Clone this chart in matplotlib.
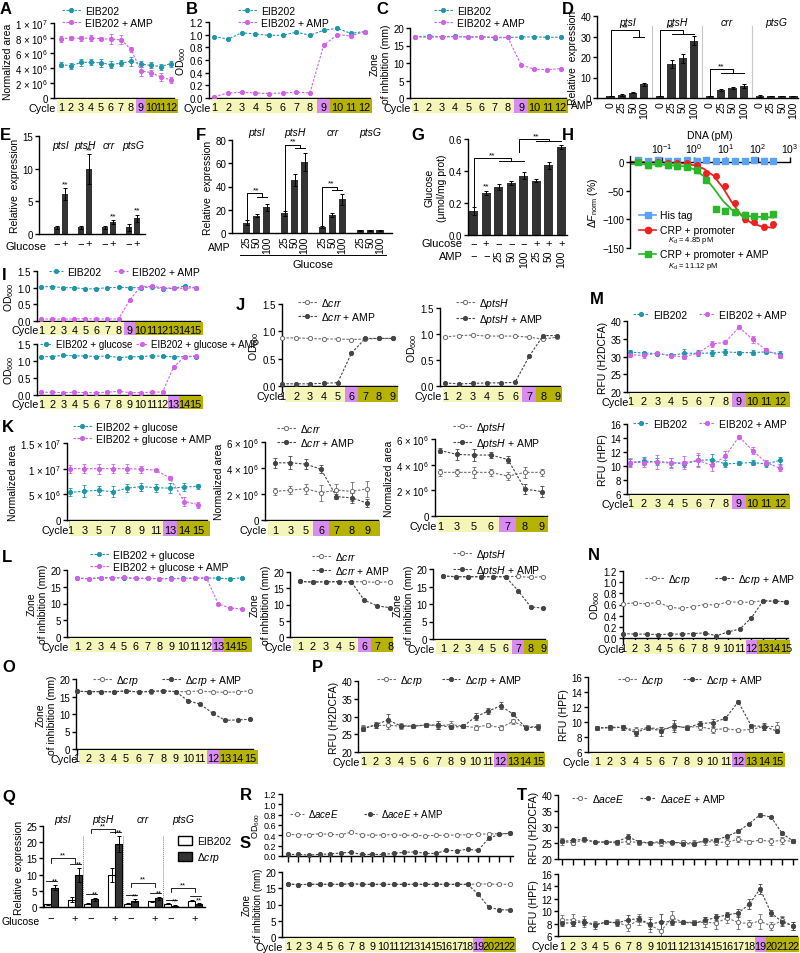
import numpy as np
import matplotlib
matplotlib.use("Agg")
import matplotlib.pyplot as plt
from matplotlib.patches import Rectangle, Patch
from matplotlib.lines import Line2D
from matplotlib.ticker import NullLocator

# ---------------- data ----------------
CYC8 = ["1", "2", "3", "4", "5", "6", "7", "8"]
CYC9 = CYC8 + ["9"]
CYC12 = CYC9 + ["10", "11", "12"]
CYC15 = CYC12 + ["13", "14", "15"]
CYC22 = CYC15 + ["16", "17", "18", "19", "20", "21", "22"]

# A  normalized area (x 10^6)
A_ctrl = [4.45, 4.3, 4.75, 4.75, 4.7, 4.45, 4.65, 4.9, 4.5, 4.35, 4.2, 4.6]
A_ctrl_err = [0.3, 0.4, 0.5, 0.4, 0.5, 0.5, 0.4, 0.6, 0.4, 0.4, 0.4, 0.4]
A_amp = [7.9, 8.0, 7.95, 8.0, 7.9, 7.85, 7.75, 6.5, 3.6, 3.4, 2.8, 2.4]
A_amp_err = [0.4, 0.3, 0.3, 0.4, 0.2, 0.7, 0.6, 0.3, 0.6, 0.4, 0.5, 0.4]
A_ytl = ["0", "2 × 10$^6$", "4 × 10$^6$", "6 × 10$^6$", "8 × 10$^6$", "1 × 10$^7$"]
# B  OD600
B_ctrl = [0.97, 0.93, 1.03, 1.01, 0.99, 0.99, 1.04, 0.99, 1.07, 1.10, 1.02, 1.05]
B_amp = [0.02, 0.08, 0.09, 0.08, 0.07, 0.08, 0.09, 0.08, 0.83, 1.00, 0.98, 1.05]
OD12_ytl = ["0.0", "0.2", "0.4", "0.6", "0.8", "1.0", "1.2"]
OD15_ytl = ["0.0", "0.5", "1.0", "1.5"]
# C  zone of inhibition
C_ctrl = [17.5, 17.7, 17.5, 17.6, 17.4, 17.5, 17.2, 17.3, 17.4, 17.5, 17.3, 17.4]
C_amp = [17.5, 17.3, 17.5, 17.5, 17.5, 17.5, 17.4, 17.3, 9.5, 8.2, 8.1, 8.4]
# D  relative expression vs AMP
GENES = ["ptsI", "ptsH", "crr", "ptsG"]
D_amp_lab = ["0", "25", "50", "100"]
D_vals = [[1.0, 1.5, 2.5, 6.7], [1.0, 16.5, 19.5, 28.0], [1.0, 4.0, 4.8, 6.0], [1.0, 0.9, 0.9, 1.0]]
D_err = [[0.2, 0.4, 0.3, 0.8], [0.2, 2.0, 2.2, 2.3], [0.2, 0.6, 0.4, 1.0], [0.3, 0.1, 0.1, 0.2]]
# E  relative expression, glucose - / +
E_vals = [[1.0, 6.1], [1.0, 9.9], [1.0, 1.8], [1.0, 2.4]]
E_err = [[0.3, 0.9], [0.2, 2.3], [0.3, 0.3], [0.5, 0.5]]
# F  relative expression, glucose + AMP
F_amp_lab = ["25", "50", "100"]
F_vals = [[9.0, 15.0, 22.0], [17.0, 45.5, 61.0], [5.0, 15.5, 29.0], [2.5, 2.5, 2.5]]
F_err = [[2.0, 1.5, 3.0], [2.0, 5.0, 8.0], [1.0, 2.0, 4.5], [0.4, 0.4, 0.4]]
# G  glucose content
G_glu = ["−", "+", "−", "−", "−", "+", "+", "+"]
G_amp = ["−", "−", "25", "50", "100", "25", "50", "100"]
G_vals = [0.15, 0.26, 0.30, 0.325, 0.37, 0.34, 0.435, 0.55]
G_err = [0.022, 0.012, 0.016, 0.012, 0.022, 0.01, 0.022, 0.012]
# H  MST
H_x = [0.018, 0.037, 0.073, 0.15, 0.29, 0.59, 1.2, 2.3, 4.7, 9.4, 19, 38, 75, 150, 300]
H_his = [3, 2, 3, 2, 1, 3, 2, 3, 2, 2, 2, 2, 3, 2, 2]
H_crp = [-2, -2, 0, -2, -3, -3, -5, -20, -25, -42, -72, -100, -105, -113, -109]
H_amp = [0, -6, -3, -6, -8, -9, -15, -32, -82, -85, -88, -92, -95, -94, -91]
H_fit_x = [0.01, 0.1, 0.5, 1, 2, 4, 8, 15, 30, 60, 120, 300]
H_fit_crp = [0, -1, -3, -6, -12, -24, -45, -70, -93, -106, -112, -115]
H_fit_amp = [-4, -5, -8, -13, -25, -45, -68, -83, -92, -95, -96, -97]
# I  OD600, 15 cycles
I_ctrl = [1.03, 1.03, 1.0, 1.0, 0.96, 0.97, 1.0, 1.01, 1.0, 1.0, 1.02, 0.97, 0.98, 1.05, 1.0]
I_amp = [0.06, 0.06, 0.06, 0.06, 0.07, 0.06, 0.06, 0.06, 0.62, 1.03, 1.04, 1.0, 0.98, 0.98, 1.0]
I2_ctrl = [1.13, 1.13, 1.17, 1.15, 1.15, 1.13, 1.15, 1.10, 1.12, 1.13, 1.15, 1.14, 1.12, 1.13, 1.13]
I2_amp = [0.08, 0.08, 0.07, 0.08, 0.07, 0.07, 0.08, 0.11, 0.07, 0.07, 0.08, 0.09, 0.82, 1.13, 1.15]
# J  OD600 mutants
J1_ctrl = [0.88, 0.88, 0.87, 0.86, 0.86, 0.85, 0.86, 0.87, 0.87]
J1_amp = [0.04, 0.04, 0.04, 0.05, 0.06, 0.60, 0.87, 0.87, 0.87]
J2_ctrl = [0.94, 0.97, 0.98, 0.96, 0.96, 0.96, 0.94, 0.90, 0.94]
J2_amp = [0.06, 0.04, 0.05, 0.06, 0.06, 0.07, 0.57, 0.97, 0.97]
# K  normalized area (x 10^6)
K1_lab = ["1", "3", "5", "7", "8", "9", "11", "13", "14", "15"]
K1_ctrl = [5.4, 5.6, 5.8, 5.5, 6.2, 6.5, 6.3, 6.2, 6.4, 6.6]
K1_ctrl_err = [0.8, 1.2, 0.9, 1.1, 0.8, 0.8, 0.8, 1.0, 0.8, 0.5]
K1_amp = [10.0, 10.0, 10.0, 10.0, 10.0, 9.9, 9.7, 8.2, 3.6, 3.0]
K1_amp_err = [0.8, 0.9, 1.0, 0.9, 0.9, 0.7, 0.3, 0.4, 0.8, 0.6]
K1_ytl = ["0", "5 × 10$^6$", "1 × 10$^7$", "1.5 × 10$^7$"]
K2_lab = ["1", "3", "5", "6", "7", "8", "9"]
K2_ctrl = [2.2, 2.3, 2.4, 2.1, 2.3, 2.2, 2.4]
K2_ctrl_err = [0.3, 0.3, 0.4, 0.6, 0.5, 0.7, 0.6]
K2_amp = [4.4, 4.4, 4.3, 3.9, 1.8, 1.7, 1.3]
K2_amp_err = [0.4, 0.5, 0.4, 0.3, 0.2, 0.4, 0.3]
K3_lab = ["1", "3", "5", "6", "7", "8", "9"]
K3_ctrl = [3.4, 3.4, 3.4, 3.4, 3.1, 3.4, 3.4]
K3_ctrl_err = [0.3, 0.3, 0.4, 0.3, 0.3, 0.4, 0.3]
K3_amp = [5.1, 4.8, 4.75, 4.75, 4.4, 2.1, 1.9]
K3_amp_err = [0.2, 0.4, 0.5, 0.2, 0.3, 0.4, 0.4]
K6_ytl = ["0", "2 × 10$^6$", "4 × 10$^6$", "6 × 10$^6$"]
# L  zone of inhibition
L1_ctrl = [17.6, 17.4, 17.7, 17.7, 17.6, 17.5, 17.5, 17.4, 17.5, 17.5, 17.6, 17.6, 17.6, 17.3, 17.7]
L1_amp = [17.5, 17.4, 17.6, 17.6, 17.8, 17.5, 17.5, 17.4, 17.4, 17.4, 17.6, 17.6, 9.9, 8.6, 8.4]
L2_ctrl = [17.1, 16.9, 17.0, 17.0, 17.0, 17.0, 16.8, 17.0]
L2_amp = [17.1, 16.9, 17.0, 17.0, 16.9, 11.3, 9.6, 9.0]
L3_ctrl = [18.0, 17.8, 17.8, 17.8, 17.8, 17.8, 17.9, 17.6, 17.8]
L3_amp = [18.0, 17.8, 17.8, 17.8, 17.8, 17.8, 13.8, 9.2, 8.8]
# M  ROS
M1_ctrl = [31.2, 31.0, 30.8, 30.3, 30.9, 30.9, 31.0, 31.3, 31.1, 31.1, 31.3, 30.8]
M1_ctrl_err = [0.6, 0.4, 0.4, 0.3, 1.2, 0.8, 0.9, 0.9, 0.5, 0.6, 0.3, 0.7]
M1_amp = [30.5, 30.3, 30.9, 30.2, 29.9, 31.0, 33.5, 34.0, 38.3, 34.8, 31.8, 30.2]
M1_amp_err = [0.5, 0.6, 0.5, 0.4, 0.5, 0.5, 0.8, 0.6, 0.5, 1.0, 0.5, 0.5]
M2_ctrl = [10.5, 10.7, 10.6, 10.5, 10.3, 10.8, 10.9, 10.3, 10.4, 10.5, 10.3, 10.8]
M2_ctrl_err = [0.5, 0.6, 0.5, 0.6, 0.4, 0.8, 0.8, 0.5, 0.3, 0.4, 0.4, 0.5]
M2_amp = [10.5, 10.5, 10.6, 10.4, 10.5, 10.8, 10.1, 11.4, 14.2, 12.2, 10.5, 9.7]
M2_amp_err = [0.7, 0.7, 1.0, 0.7, 0.9, 1.0, 0.8, 0.8, 0.3, 0.5, 0.4, 0.4]
# N  OD600 crp
N_ctrl = [0.61, 0.63, 0.61, 0.64, 0.55, 0.53, 0.56, 0.60, 0.59, 0.65, 0.64, 0.64, 0.67, 0.66, 0.65]
N_amp = [0.08, 0.07, 0.07, 0.06, 0.07, 0.07, 0.08, 0.09, 0.04, 0.11, 0.16, 0.36, 0.66, 0.66, 0.65]
# O  zone crp
O_ctrl = [16.5, 16.4, 16.4, 16.4, 16.6, 16.3, 16.4, 16.6, 16.4, 16.4, 16.6, 16.3, 16.2, 16.3, 16.6]
O_amp = [16.5, 16.4, 16.4, 16.3, 16.6, 16.3, 16.5, 16.6, 16.4, 13.8, 12.8, 10.2, 8.2, 8.3, 8.5]
# P  ROS crp
P1_ctrl = [26.8, 27.5, 27.5, 27.3, 27.2, 27.6, 27.4, 27.7, 27.3, 26.9, 27.6, 26.8, 28.6, 27.0, 27.2]
P1_ctrl_err = [0.8, 0.6, 1.0, 0.8, 0.4, 0.6, 0.9, 0.9, 0.5, 0.7, 0.5, 0.7, 0.8, 0.5, 0.6]
P1_amp = [26.5, 27.7, 29.0, 27.4, 27.3, 27.6, 27.6, 27.0, 27.2, 29.9, 31.5, 33.0, 30.7, 26.9, 27.0]
P1_amp_err = [0.7, 0.8, 1.8, 0.6, 0.4, 0.5, 1.0, 0.6, 0.5, 1.0, 0.8, 1.0, 0.6, 0.5, 0.9]
P2_ctrl = [9.2, 9.2, 9.3, 8.9, 9.3, 9.0, 9.4, 9.3, 9.4, 9.0, 9.1, 8.9, 9.0, 9.4, 9.4]
P2_ctrl_err = [0.3, 0.3, 0.3, 0.4, 0.3, 0.4, 0.5, 0.3, 0.5, 0.5, 0.3, 0.2, 0.3, 0.4, 0.6]
P2_amp = [9.2, 9.3, 9.3, 8.6, 9.2, 8.8, 9.5, 9.2, 9.8, 9.9, 10.5, 12.7, 9.5, 9.4, 8.8]
P2_amp_err = [0.3, 0.3, 0.3, 0.4, 0.3, 0.6, 0.8, 0.3, 0.4, 0.5, 0.2, 0.2, 0.3, 0.5, 0.3]
# Q  relative expression WT vs crp
Q_wt = [0.8, 2.3, 1.0, 9.9, 1.0, 1.7, 1.0, 2.0]
Q_wt_err = [0.2, 0.8, 0.2, 2.2, 0.2, 0.3, 0.1, 0.2]
Q_crp = [6.0, 9.8, 2.4, 19.5, 1.9, 2.7, 0.4, 0.8]
Q_crp_err = [0.9, 2.2, 0.4, 2.5, 0.5, 0.5, 0.2, 0.3]
Q_glu = ["−", "+", "−", "+", "−", "+", "−", "+"]
# R, S, T  aceE, 22 cycles
R_ctrl = [0.42, 0.41, 0.41, 0.43, 0.42, 0.41, 0.46, 0.41, 0.40, 0.41, 0.41, 0.40, 0.40, 0.39, 0.40,
          0.40, 0.41, 0.41, 0.42, 0.43, 0.43, 0.44]
R_amp = [0.03, 0.03, 0.02, 0.03, 0.04, 0.06, 0.07, 0.03, 0.03, 0.03, 0.05, 0.07, 0.08, 0.05, 0.05,
         0.11, 0.10, 0.13, 0.11, 0.34, 0.42, 0.44]
S_ctrl = [16.3, 16.1, 16.2, 16.2, 16.2, 16.2, 16.4, 16.2, 16.2, 16.2, 16.2, 16.2, 16.2, 16.2, 16.2,
          16.2, 16.2, 16.2, 16.3, 16.3, 16.2, 16.2]
S_amp = [16.3, 16.1, 16.2, 16.2, 16.2, 16.2, 16.4, 16.2, 16.2, 16.2, 16.2, 16.2, 16.2, 16.2, 16.2,
         16.2, 16.2, 16.2, 13.2, 9.2, 8.4, 8.3]
T1_ctrl = [25.5, 25.0, 26.0, 25.3, 25.3, 25.0, 25.5, 25.1, 25.0, 25.0, 25.1, 25.2, 25.0, 25.5, 25.3,
           25.2, 26.2, 25.3, 25.9, 25.5, 25.8, 25.5]
T1_ctrl_err = [1.0, 0.6, 0.5, 0.3, 0.4, 0.5, 0.9, 0.8, 0.5, 0.8, 0.4, 0.6, 0.8, 1.2, 0.9, 1.0, 1.0,
               0.6, 0.7, 1.0, 1.2, 0.6]
T1_amp = [25.5, 25.8, 26.2, 25.3, 25.3, 25.4, 26.9, 25.4, 25.0, 25.5, 25.3, 24.8, 24.7, 25.9, 25.9,
          27.1, 28.6, 31.0, 33.8, 33.1, 28.0, 25.6]
T1_amp_err = [0.6, 0.5, 0.6, 0.3, 0.4, 0.6, 0.8, 0.6, 0.4, 0.6, 0.4, 0.5, 0.4, 0.6, 0.6, 0.5, 0.4,
              0.4, 0.6, 0.4, 0.5, 0.6]
T2_ctrl = [8.6, 8.6, 8.3, 7.9, 8.2, 8.2, 7.6, 8.6, 7.8, 6.8, 9.0, 8.2, 8.2, 8.2, 8.1, 8.9, 8.2, 8.0,
           8.4, 7.6, 8.5, 7.6]
T2_ctrl_err = [0.8, 1.0, 0.9, 0.5, 0.3, 0.5, 0.8, 0.9, 1.2, 1.5, 1.0, 0.2, 0.4, 0.8, 0.9, 0.8, 1.0,
               0.6, 1.2, 0.7, 0.8, 0.6]
T2_amp = [8.1, 8.1, 8.3, 7.7, 8.3, 8.1, 8.6, 8.8, 7.9, 8.3, 8.3, 8.2, 8.1, 8.5, 9.0, 9.4, 9.7, 11.1,
          13.6, 9.7, 8.3, 7.6]
T2_amp_err = [0.5, 0.5, 0.5, 0.5, 0.3, 0.5, 0.8, 0.5, 0.8, 1.2, 0.5, 0.2, 0.4, 0.5, 0.5, 0.5, 0.6,
              0.8, 0.8, 0.5, 0.7, 0.6]

# ---------------- style ----------------
plt.rcParams["font.family"] = ["Liberation Sans", "DejaVu Sans"]
plt.rcParams["mathtext.fontset"] = "custom"
plt.rcParams["mathtext.rm"] = "Liberation Sans"
plt.rcParams["mathtext.it"] = "Liberation Sans:italic"
plt.rcParams["mathtext.bf"] = "Liberation Sans:bold"
plt.rcParams["font.size"] = 7.5
plt.rcParams["xtick.labelsize"] = 7
plt.rcParams["ytick.labelsize"] = 7
plt.rcParams["axes.linewidth"] = 1.0
plt.rcParams["xtick.major.width"] = 1.0
plt.rcParams["ytick.major.width"] = 1.0
plt.rcParams["xtick.major.size"] = 3.5
plt.rcParams["ytick.major.size"] = 3
plt.rcParams["xtick.major.pad"] = 1.5
plt.rcParams["ytick.major.pad"] = 1.2
plt.rcParams["axes.labelpad"] = 1.5

TEAL = "#2196ab"
MAG = "#cf62e6"
GREY = "#6e6e6e"
DARK = "#454545"
BAR = "#333333"
YEL = "#f3f6b8"
PUR = "#d88cf2"
OLV = "#b6b300"
LAB = 7.5   # axis label size
CYS = 7.8   # cycle row size

W, H = 800, 954
fig = plt.figure(figsize=(W / 100, H / 100), dpi=100)


def box(l, t, r, b):
    return [l / W, 1 - b / H, (r - l) / W, (b - t) / H]


def ftext(x, y, s, **kw):
    fig.text(x / W, 1 - y / H, s, **kw)


def letter(x, y, s):
    ftext(x, y, s, fontsize=12, fontweight="bold", va="top", ha="left")


def new_ax(l, t, r, b):
    ax = fig.add_axes(box(l, t, r, b))
    ax.spines[["top", "right"]].set_visible(False)
    ax.patch.set_alpha(0)
    return ax


STY = {
    "teal": dict(color=TEAL, mfc=TEAL, mec=TEAL),
    "mag": dict(color=MAG, mfc=MAG, mec=MAG),
    "open": dict(color=GREY, mfc="white", mec=GREY),
    "fill": dict(color=DARK, mfc=DARK, mec=DARK),
}


def series(ax, y, kind, label, err=None):
    x = np.arange(1, len(y) + 1)
    st = STY[kind]
    if err is not None:
        ax.errorbar(x, y, yerr=err, fmt="none", ecolor=st["color"], elinewidth=0.6,
                    capsize=1.6, capthick=0.6, zorder=2, clip_on=False)
    ax.plot(x, y, ls=(0, (2.2, 1.4)), lw=0.8, marker="o", ms=3, mew=0.7, label=label,
            zorder=3, clip_on=False, **st)


def cycle_row(rect, xlim, labels, purple, row, fs=CYS):
    l, t, r, b = rect
    x0, x1 = xlim
    k = (x1 - x0) / (r - l)
    rl, rt, rr, rb = row
    rx = fig.add_axes(box(rl, rt, rr, rb))
    lo, hi = x0 + (rl - l) * k, x0 + (rr - l) * k
    rx.set_xlim(lo, hi)
    rx.set_ylim(0, 1)
    rx.axis("off")
    n = len(labels)
    for i, lab in enumerate(labels):
        c = YEL if i < purple else (PUR if i == purple else OLV)
        a = lo if i == 0 else i + 0.5
        z = hi if i == n - 1 else i + 1.5
        rx.add_patch(Rectangle((a, 0), z - a, 1, facecolor=c, edgecolor="none"))
        rx.text(i + 1, 0.42, lab, ha="center", va="center", fontsize=fs)
    rx.text(-0.008, 0.38, "Cycle", transform=rx.transAxes, ha="right", va="center", fontsize=fs)


def line_panel(rect, labels, purple, data, ylim, yticks, ytl=None, ylabel=None, row=None,
               xlim=None):
    ax = new_ax(*rect)
    for y, kind, lab, err in data:
        series(ax, y, kind, lab, err)
    n = len(labels)
    xlim = xlim or (0.5, n + 0.5)
    ax.set_xlim(*xlim)
    ax.set_xticks(np.arange(1, n + 1))
    ax.set_xticklabels([])
    ax.tick_params(axis="x", length=4)
    ax.set_ylim(*ylim)
    ax.set_yticks(yticks)
    if ytl is not None:
        ax.set_yticklabels(ytl)
    if ylabel:
        ax.set_ylabel(ylabel, fontsize=LAB)
    if row:
        cycle_row(rect, xlim, labels, purple, row)
    return ax


def leg(ax, x, y, ncol=1, fs=7.5, cs=1.5, hl=1.8):
    ax.legend(loc="upper left", bbox_to_anchor=(x / W, 1 - y / H), bbox_transform=fig.transFigure,
              ncol=ncol, frameon=False, fontsize=fs, handlelength=hl, handletextpad=0.4,
              columnspacing=cs, borderaxespad=0, borderpad=0, labelspacing=0.15)


def bracket(ax, x0, y0, h, xa, xb, d, txt="**", tx=None):
    xm = (xa + xb) / 2
    ax.plot([x0, x0, xm, xm], [y0, h, h, h - d], color="k", lw=0.7, clip_on=False)
    ax.plot([xa, xb], [h - d, h - d], color="k", lw=0.7, clip_on=False)
    ax.text((x0 + xm) / 2 if tx is None else tx, h, txt, ha="center", va="bottom", fontsize=6)


ZONE = "Zone\nof inhibition (mm)"
OD = "OD$_{600}$"

# ---------------- A ----------------
letter(0, 2, "A")
ax = line_panel((54, 24, 174, 99), CYC12, 8,
                [(A_ctrl, "teal", "EIB202", A_ctrl_err), (A_amp, "mag", "EIB202 + AMP", A_amp_err)],
                (0, 10), [0, 2, 4, 6, 8, 10], A_ytl, "Normalized area", (57, 100, 178, 114), (0.3, 12.3))
leg(ax, 62, 7)

# ---------------- B ----------------
letter(186, 2, "B")
ax = line_panel((209, 23, 370, 99), CYC12, 8,
                [(B_ctrl, "teal", "EIB202", None), (B_amp, "mag", "EIB202 + AMP", None)],
                (0, 1.2), [0, 0.2, 0.4, 0.6, 0.8, 1.0, 1.2], OD12_ytl, OD, (212, 100, 372, 114), (0.6, 12.4))
leg(ax, 238, 7)

# ---------------- C ----------------
letter(376, 2, "C")
ax = line_panel((410, 29, 566, 99), CYC12, 8,
                [(C_ctrl, "teal", "EIB202", None), (C_amp, "mag", "EIB202 + AMP", None)],
                (0, 20), [0, 5, 10, 15, 20], None, ZONE, (412, 100, 568, 114), (0.6, 12.4))
leg(ax, 434, 7)

# ---------------- D ----------------
letter(562, 2, "D")
ax = new_ax(597, 17, 798, 99)
GAP_D = 4.4
pos = []
for g in range(4):
    xs = g * GAP_D + np.arange(4)
    pos += list(xs)
    ax.bar(xs, D_vals[g], 0.72, yerr=D_err[g], color=BAR, capsize=1.5,
           error_kw=dict(elinewidth=0.7, capthick=0.7))
    ax.text(g * GAP_D + 1.5, 37, GENES[g], style="italic", ha="center", va="center", fontsize=7.5)
    if g > 0:
        ax.plot([g * GAP_D - 0.7] * 2, [0, 35], color="#c8c8c8", lw=0.8)
ax.set_xlim(-1.2, 16.6)
ax.set_ylim(0, 40)
ax.set_yticks([0, 10, 20, 30, 40])
ax.set_xticks(pos)
ax.set_xticklabels(D_amp_lab * 4, rotation=90, fontsize=7.5)
ax.tick_params(axis="x", length=0, pad=2)
ax.set_ylabel("Relative  expression", fontsize=LAB)
ftext(593, 106, "AMP", ha="right", va="center", fontsize=7.5)
bracket(ax, 0, 1.5, 33, 2, 3, 3, tx=1.3)
bracket(ax, GAP_D, 1.5, 33, GAP_D + 1, GAP_D + 3, 2, tx=GAP_D + 1.0)
bracket(ax, 2 * GAP_D, 1.5, 14, 2 * GAP_D + 1, 2 * GAP_D + 3, 2, tx=2 * GAP_D + 1.0)

# ---------------- E ----------------
letter(0, 128, "E")
ax = new_ax(39, 137, 145, 235)
pos = []
for g in range(4):
    xs = g * 3 + np.arange(2)
    pos += list(xs)
    ax.bar(xs, E_vals[g], 0.75, yerr=E_err[g], color=BAR, capsize=1.5,
           error_kw=dict(elinewidth=0.7, capthick=0.7))
    ax.text(g * 3 + 0.5, 13.6, GENES[g], style="italic", ha="center", va="center", fontsize=7.5)
    ax.text(g * 3 + 1, E_vals[g][1] + E_err[g][1] + 0.2, "**", ha="center", va="bottom", fontsize=6)
ax.set_xlim(-2.25, 11)
ax.set_ylim(0, 15)
ax.set_yticks([0, 5, 10, 15])
ax.set_xticks(pos)
ax.set_xticklabels(["−", "+"] * 4, fontsize=8)
ax.tick_params(axis="x", length=0, pad=3)
ax.set_ylabel("Relative  expression", fontsize=LAB)
ftext(46, 247, "Glucose", ha="right", va="center", fontsize=8)

# ---------------- F ----------------
letter(196, 128, "F")
ax = new_ax(232, 141, 392, 234)
GAP_F = 3.8
pos = []
for g in range(4):
    xs = g * GAP_F + np.arange(3)
    pos += list(xs)
    ax.bar(xs, F_vals[g], 0.72, yerr=F_err[g], color=BAR, capsize=1.5,
           error_kw=dict(elinewidth=0.7, capthick=0.7))
    ax.text(g * GAP_F + 1, 87, GENES[g], style="italic", ha="center", va="center", fontsize=7.5)
ax.set_xlim(-1.5, 14.6)
ax.set_ylim(0, 80)
ax.set_yticks([0, 20, 40, 60, 80])
ax.set_xticks(pos)
ax.set_xticklabels(F_amp_lab * 4, rotation=90, fontsize=7.5)
ax.tick_params(axis="x", length=0, pad=2)
ax.set_ylabel("Relative  expression", fontsize=LAB)
ftext(230, 248, "AMP", ha="right", va="center", fontsize=7.5)
fig.add_artist(Line2D([240 / W, 386 / W], [1 - 256 / H] * 2, color="k", lw=0.7))
ftext(313, 265, "Glucose", ha="center", va="center", fontsize=8)
bracket(ax, 0, 11, 34, 1, 2, 3, tx=0.9)
bracket(ax, GAP_F, 19, 76, GAP_F + 1, GAP_F + 2, 3, tx=GAP_F + 0.9)
bracket(ax, 2 * GAP_F, 6.5, 40, 2 * GAP_F + 1, 2 * GAP_F + 2, 3, tx=2 * GAP_F + 0.9)

# ---------------- G ----------------
letter(411, 128, "G")
ax = new_ax(468, 140, 567, 236)
xs = np.arange(len(G_vals))
ax.bar(xs, G_vals, 0.72, yerr=G_err, color=BAR, capsize=1.5,
       error_kw=dict(elinewidth=0.7, capthick=0.7))
ax.set_xlim(-0.45, 7.45)
ax.set_ylim(0, 0.6)
ax.set_yticks([0, 0.2, 0.4, 0.6])
ax.set_yticklabels(["0.0", "0.2", "0.4", "0.6"])
ax.set_xticks([])
ax.set_ylabel("Glucose\n(μmol/mg prot)", fontsize=LAB)
tr = ax.get_xaxis_transform()
for i in range(len(G_vals)):
    ax.text(i, -0.085, G_glu[i], transform=tr, ha="center", va="center", fontsize=8)
    if G_amp[i] == "−":
        ax.text(i, -0.215, G_amp[i], transform=tr, ha="center", va="center", fontsize=8)
    else:
        ax.text(i, -0.15, G_amp[i], transform=tr, ha="center", va="top", rotation=90, fontsize=7.5)
ftext(463, 244, "Glucose", ha="right", va="center", fontsize=8)
ftext(463, 257, "AMP", ha="right", va="center", fontsize=8)
ax.text(1, 0.285, "**", ha="center", va="bottom", fontsize=6)
bracket(ax, 0, 0.18, 0.48, 2, 4, 0.015, tx=1.5)
bracket(ax, 3.6, 0.52, 0.6, 5, 7, 0.015, tx=5.0)

# ---------------- H ----------------
letter(562, 128, "H")
BLUE, RED, GREEN = "#5aa2f2", "#ee2020", "#2ab82a"
ax = new_ax(630, 157, 790, 249)
ax.set_xscale("log")
ax.plot(H_fit_x, H_fit_crp, color=RED, lw=1.3, zorder=2)
ax.plot(H_fit_x, H_fit_amp, color=GREEN, lw=1.3, zorder=2)
ax.errorbar(H_x, H_his, yerr=2, fmt="s", color=BLUE, ms=4, elinewidth=0.6, capsize=1.5, zorder=3)
ax.errorbar(H_x[2:], H_crp[2:], yerr=4, fmt="o", color=RED, ms=4, elinewidth=0.6, capsize=1.5, zorder=3)
ax.errorbar(H_x, H_amp, yerr=4, fmt="s", color=GREEN, ms=4, elinewidth=0.6, capsize=1.5, zorder=3)
ax.set_xlim(0.01, 1000)
ax.set_ylim(-150, 10)
ax.set_yticks([0, -50, -100, -150])
ax.spines["bottom"].set_visible(False)
ax.spines["top"].set_visible(True)
ax.spines["top"].set_position(("data", 0))
ax.xaxis.set_ticks_position("top")
ax.xaxis.set_label_position("top")
ax.set_xticks([0.1, 1, 10, 100, 1000])
ax.set_xticklabels(["10$^{-1}$", "10$^{0}$", "10$^{1}$", "10$^{2}$", "10$^{3}$"], fontsize=7.5)
ax.xaxis.set_minor_locator(NullLocator())
ax.set_xlabel("DNA (pM)", fontsize=7.5, labelpad=2)
ax.set_ylabel(r"$\mathit{\Delta F}_{\mathrm{norm}}$ (%)", fontsize=LAB)
for col, mk, lab, yy in [(BLUE, "s", "His tag", 216), (RED, "o", "CRP + promoter", 231),
                         (GREEN, "s", "CRP + promoter + AMP", 255)]:
    fig.add_artist(Line2D([639 / W, 656 / W], [1 - yy / H] * 2, color=col, lw=1.2))
    fig.add_artist(Line2D([647.5 / W], [1 - yy / H], color=col, marker=mk, ms=4.5))
    ftext(660, yy, lab, va="center", ha="left", fontsize=7.5)
ftext(668, 241, "$\\mathit{K}_{\\mathrm{d}}$ = 4.85 pM", va="center", fontsize=5.5)
ftext(668, 266, "$\\mathit{K}_{\\mathrm{d}}$ = 11.12 pM", va="center", fontsize=5.5)

# ---------------- I ----------------
letter(2, 268, "I")
ax = line_panel((37, 272, 200, 322), CYC15, 8,
                [(I_ctrl, "teal", "EIB202", None), (I_amp, "mag", "EIB202 + AMP", None)],
                (0, 1.5), [0, 0.5, 1.0, 1.5], OD15_ytl, OD, (40, 323, 203, 336), (0.6, 15.4))
leg(ax, 49, 268, ncol=2, cs=1.3, hl=1.3)
ax = line_panel((37, 345, 200, 396), CYC15, 12,
                [(I2_ctrl, "teal", "EIB202 + glucose", None), (I2_amp, "mag", "EIB202 + glucose + AMP", None)],
                (0, 1.5), [0, 0.5, 1.0, 1.5], OD15_ytl, OD, (40, 397, 203, 410), (0.6, 15.4))
leg(ax, 40, 340, ncol=2, cs=0.4, hl=1.2, fs=7)

# ---------------- J ----------------
letter(236, 298, "J")
ax = line_panel((282, 305, 397, 387), CYC9, 5,
                [(J1_ctrl, "open", "Δ$\\mathit{crr}$", None), (J1_amp, "fill", "Δ$\\mathit{crr}$ + AMP", None)],
                (0, 1.5), [0, 0.5, 1.0, 1.5], OD15_ytl, OD, (285, 388, 398, 403), (0.97, 9.3))
leg(ax, 298, 297)
ax = line_panel((440, 309, 560, 387), CYC9, 6,
                [(J2_ctrl, "open", "Δ$\\mathit{ptsH}$", None), (J2_amp, "fill", "Δ$\\mathit{ptsH}$ + AMP", None)],
                (0, 1.5), [0, 0.5, 1.0, 1.5], OD15_ytl, OD, (443, 388, 562, 403), (0.65, 9.2))
leg(ax, 456, 297)

# ---------------- M ----------------
letter(590, 292, "M")
ax = line_panel((627, 322, 788, 393), CYC12, 8,
                [(M1_ctrl, "teal", "EIB202", M1_ctrl_err), (M1_amp, "mag", "EIB202 + AMP", M1_amp_err)],
                (20, 40), [20, 25, 30, 35, 40], None, "RFU (H2DCFA)", (630, 394, 790, 408), (0.78, 12.6))
leg(ax, 633, 311, ncol=2, cs=1.2, hl=1.5)
ax = line_panel((627, 425, 788, 495), CYC12, 8,
                [(M2_ctrl, "teal", "EIB202", M2_ctrl_err), (M2_amp, "mag", "EIB202 + AMP", M2_amp_err)],
                (6, 16), [6, 8, 10, 12, 14, 16], None, "RFU (HPF)", (630, 496, 790, 510), (0.78, 12.6))
leg(ax, 633, 420, ncol=2, cs=1.2, hl=1.5)

# ---------------- K ----------------
letter(2, 420, "K")
ax = line_panel((67, 444, 207, 521), K1_lab, 7,
                [(K1_ctrl, "teal", "EIB202 + glucose", K1_ctrl_err),
                 (K1_amp, "mag", "EIB202 + glucose + AMP", K1_amp_err)],
                (0, 15), [0, 5, 10, 15], K1_ytl, "Normalized area", (70, 522, 210, 537), (0.79, 10.6))
leg(ax, 73, 423)
ax = line_panel((265, 443, 378, 521), K2_lab, 3,
                [(K2_ctrl, "open", "Δ$\\mathit{crr}$", K2_ctrl_err),
                 (K2_amp, "fill", "Δ$\\mathit{crr}$ + AMP", K2_amp_err)],
                (0, 6), [0, 2, 4, 6], K6_ytl, "Normalized area", (268, 522, 380, 537), (0.35, 7.7))
leg(ax, 277, 423)
ax = line_panel((435, 440, 547, 517), K3_lab, 4,
                [(K3_ctrl, "open", "Δ$\\mathit{ptsH}$", K3_ctrl_err),
                 (K3_amp, "fill", "Δ$\\mathit{ptsH}$ + AMP", K3_amp_err)],
                (0, 6), [0, 2, 4, 6], K6_ytl, "Normalized area", (438, 518, 548, 533), (0.7, 7.3))
leg(ax, 453, 421)

# ---------------- L ----------------
letter(2, 550, "L")
ax = line_panel((67, 571, 250, 638), CYC15, 12,
                [(L1_ctrl, "teal", "EIB202 + glucose", None), (L1_amp, "mag", "EIB202 + glucose + AMP", None)],
                (0, 20), [0, 5, 10, 15, 20], None, ZONE, (70, 639, 252, 653), (0.15, 15.7))
leg(ax, 90, 551)
ax = line_panel((290, 573, 392, 638), CYC8, 5,
                [(L2_ctrl, "open", "Δ$\\mathit{crr}$", None), (L2_amp, "fill", "Δ$\\mathit{crr}$ + AMP", None)],
                (0, 20), [0, 5, 10, 15, 20], None, ZONE, (293, 639, 393, 653), (0.22, 8.15))
leg(ax, 312, 551)
ax = line_panel((433, 570, 545, 640), CYC9, 6,
                [(L3_ctrl, "open", "Δ$\\mathit{ptsH}$", None), (L3_amp, "fill", "Δ$\\mathit{ptsH}$ + AMP", None)],
                (0, 20), [0, 5, 10, 15, 20], None, ZONE, (436, 641, 548, 655), (0.2, 9.15))
leg(ax, 453, 548)

# ---------------- N ----------------
letter(588, 548, "N")
ax = line_panel((623, 572, 788, 639), CYC15, 11,
                [(N_ctrl, "open", "Δ$\\mathit{crp}$", None), (N_amp, "fill", "Δ$\\mathit{crp}$ + AMP", None)],
                (0, 1.2), [0, 0.2, 0.4, 0.6, 0.8, 1.0, 1.2], OD12_ytl, OD, (626, 641, 790, 655), (0.97, 15.15))
leg(ax, 645, 573, ncol=2, cs=2.3)

# ---------------- O ----------------
letter(2, 660, "O")
ax = line_panel((76, 680, 253, 750), CYC15, 11,
                [(O_ctrl, "open", "Δ$\\mathit{crp}$", None), (O_amp, "fill", "Δ$\\mathit{crp}$ + AMP", None)],
                (0, 20), [0, 5, 10, 15, 20], None, ZONE, (79, 751, 258, 765), (0.95, 15.25))
leg(ax, 93, 674, ncol=2, cs=2.2)

# ---------------- P ----------------
letter(312, 660, "P")
ax = line_panel((358, 682, 543, 753), CYC15, 11,
                [(P1_ctrl, "open", "Δ$\\mathit{crp}$", P1_ctrl_err), (P1_amp, "fill", "Δ$\\mathit{crp}$ + AMP", P1_amp_err)],
                (20, 40), [20, 25, 30, 35, 40], None, "RFU (H2DCFA)", (361, 754, 545, 768), (0.6, 15.4))
leg(ax, 377, 674, ncol=2, cs=1.8)
ax = line_panel((588, 678, 782, 753), CYC15, 11,
                [(P2_ctrl, "open", "Δ$\\mathit{crp}$", P2_ctrl_err), (P2_amp, "fill", "Δ$\\mathit{crp}$ + AMP", P2_amp_err)],
                (6, 16), [6, 8, 10, 12, 14, 16], None, "RFU (HPF)", (591, 754, 785, 768), (0.3, 15.4))
leg(ax, 618, 674, ncol=2, cs=1.8)

# ---------------- Q ----------------
letter(2, 790, "Q")
ax = new_ax(43, 827, 205, 908)
ec = dict(elinewidth=0.7, capthick=0.7)
centers = []
for g in range(4):
    base = g * 4.0
    for j in range(2):
        i = g * 2 + j
        c = base + 0.8 + j * 2.4
        centers.append(c)
        ax.bar(c - 0.35, Q_wt[i], 0.62, yerr=Q_wt_err[i], color="white", edgecolor="k", lw=0.8,
               capsize=1.5, error_kw=ec)
        ax.bar(c + 0.35, Q_crp[i], 0.62, yerr=Q_crp_err[i], color=BAR, edgecolor="k", lw=0.8,
               capsize=1.5, error_kw=ec)
        top = max(Q_wt[i] + Q_wt_err[i], Q_crp[i] + Q_crp_err[i])
        ax.plot([c - 0.55, c + 0.55], [top + 1.2] * 2, color="k", lw=0.6)
        ax.text(c + 0.35, Q_crp[i] + Q_crp_err[i] + 0.1, "**", ha="center", va="bottom", fontsize=5.5)
    ax.text(base + 2.0, 27.2, GENES[g], style="italic", ha="center", va="center", fontsize=7.5)
    if g > 0:
        ax.plot([base] * 2, [0, 22], color="#888888", lw=0.7, ls=(0, (1, 1)))
for g, hb in enumerate([15, 24, 7.5, 5.8]):
    a, b = centers[2 * g], centers[2 * g + 1]
    ax.plot([a, a, b, b], [hb - 1.3, hb, hb, hb - 1.3], color="k", lw=0.6)
    ax.text((a + b) / 2, hb, "**", ha="center", va="bottom", fontsize=5.5)
ax.set_xlim(0, 16.2)
ax.set_ylim(0, 25)
ax.set_yticks([0, 5, 10, 15, 20, 25])
ax.set_xticks(centers)
ax.set_xticklabels(Q_glu, fontsize=8)
ax.tick_params(axis="x", length=0, pad=4)
ax.set_ylabel("Relative  expression", fontsize=LAB)
ftext(40, 922, "Glucose", ha="right", va="center", fontsize=7.5)
ax.legend([Patch(facecolor="white", edgecolor="k"), Patch(facecolor=BAR, edgecolor="k")],
          ["EIB202", "Δ$\\mathit{crp}$"], loc="upper left", bbox_to_anchor=(178 / W, 1 - 837 / H),
          bbox_transform=fig.transFigure, frameon=False, fontsize=7.5, handlelength=1.3,
          handleheight=0.9, handletextpad=0.5, borderpad=0, borderaxespad=0, labelspacing=0.4)

# ---------------- R / S ----------------
letter(240, 788, "R")
ax = line_panel((282, 795, 513, 857), CYC22, 18,
                [(R_ctrl, "open", "Δ$\\mathit{aceE}$", None), (R_amp, "fill", "Δ$\\mathit{aceE}$ + AMP", None)],
                (0, 1.2), [0, 0.2, 0.4, 0.6, 0.8, 1.0, 1.2], OD12_ytl, None, None, (0.45, 22.3))
ax.tick_params(axis="y", labelsize=6.5)
ax.set_ylabel(OD, fontsize=6.5, labelpad=1)
leg(ax, 290, 808, ncol=2, cs=2.6, fs=7, hl=1.4)
letter(240, 836, "S")
ax = line_panel((282, 873, 513, 938), CYC22, 18,
                [(S_ctrl, "open", "Δ$\\mathit{aceE}$", None), (S_amp, "fill", "Δ$\\mathit{aceE}$ + AMP", None)],
                (0, 20), [0, 5, 10, 15, 20], None, None, (285, 939, 516, 953), (0.45, 22.3))
ax.set_ylabel(ZONE, fontsize=7)

# ---------------- T ----------------
letter(517, 788, "T")
ax = line_panel((558, 796, 797, 860), CYC22, 18,
                [(T1_ctrl, "open", "Δ$\\mathit{aceE}$", T1_ctrl_err), (T1_amp, "fill", "Δ$\\mathit{aceE}$ + AMP", T1_amp_err)],
                (20, 40), [20, 25, 30, 35, 40], None, "RFU (H2DCFA)", None, (0.64, 22.35))
leg(ax, 572, 793, ncol=2, cs=1.5, hl=1.5)
ax = line_panel((558, 875, 797, 937), CYC22, 18,
                [(T2_ctrl, "open", "Δ$\\mathit{aceE}$", T2_ctrl_err), (T2_amp, "fill", "Δ$\\mathit{aceE}$ + AMP", T2_amp_err)],
                (6, 16), [6, 8, 10, 12, 14, 16], None, "RFU (HPF)", (561, 938, 799, 953), (0.64, 22.35))

fig.savefig("out.png", dpi=100)
